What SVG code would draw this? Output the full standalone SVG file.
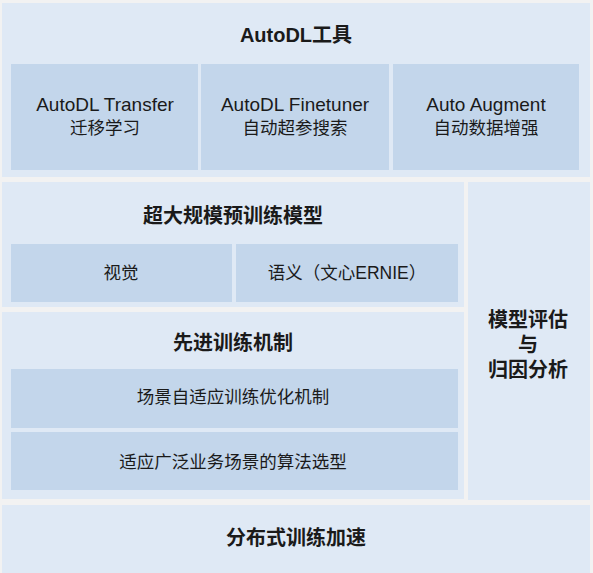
<svg xmlns="http://www.w3.org/2000/svg" width="593" height="573" viewBox="0 0 593 573">
<style>
.bg{fill:#f2f2f2}
.panel{fill:#dfe9f5}
.box{fill:#c3d6eb}
text{font-family:"Liberation Sans","Noto Sans CJK SC",sans-serif;text-anchor:middle;dominant-baseline:central;fill:#1a1a1a}
.t{font-size:20px;font-weight:bold}
.s{font-size:17.5px}
.e{font-size:19px}
</style>
<rect class="bg" x="0" y="0" width="593" height="573"/>
<g id="autodl">
<rect class="panel" x="2" y="3" width="588" height="174"/>
<text class="t" x="296" y="35">AutoDL工具</text>
</g>
<g id="transfer">
<rect class="box" x="11" y="64" width="187" height="106"/>
<text class="e" x="105" y="104">AutoDL Transfer</text>
<text class="s" x="105" y="128">迁移学习</text>
</g>
<g id="finetuner">
<rect class="box" x="201" y="64" width="188" height="106"/>
<text class="e" x="295" y="104">AutoDL Finetuner</text>
<text class="s" x="295" y="128">自动超参搜索</text>
</g>
<g id="augment">
<rect class="box" x="393" y="64" width="186" height="106"/>
<text class="e" x="486" y="104">Auto Augment</text>
<text class="s" x="486" y="128">自动数据增强</text>
</g>
<g id="pretrain">
<rect class="panel" x="2" y="182" width="462" height="125"/>
<text class="t" x="233" y="216">超大规模预训练模型</text>
</g>
<g id="vision">
<rect class="box" x="11" y="244" width="221" height="58"/>
<text class="s" x="121" y="273">视觉</text>
</g>
<g id="semantic">
<rect class="box" x="236" y="244" width="222" height="58"/>
<text class="s" x="347" y="273">语义（文心ERNIE）</text>
</g>
<g id="mechanism">
<rect class="panel" x="2" y="312" width="462" height="187"/>
<text class="t" x="233" y="343">先进训练机制</text>
</g>
<g id="adaptive">
<rect class="box" x="11" y="369" width="447" height="59"/>
<text class="s" x="233" y="397">场景自适应训练优化机制</text>
</g>
<g id="selection">
<rect class="box" x="11" y="432" width="447" height="58"/>
<text class="s" x="233" y="462">适应广泛业务场景的算法选型</text>
</g>
<g id="evaluation">
<rect class="panel" x="468" y="182" width="122" height="318"/>
<text class="t" x="528" y="320">模型评估</text>
<text class="t" x="528" y="345">与</text>
<text class="t" x="528" y="370">归因分析</text>
</g>
<g id="distributed">
<rect class="panel" x="2" y="505" width="588" height="68"/>
<text class="t" x="296" y="538">分布式训练加速</text>
</g>
<g id="connectors"></g>
</svg>
